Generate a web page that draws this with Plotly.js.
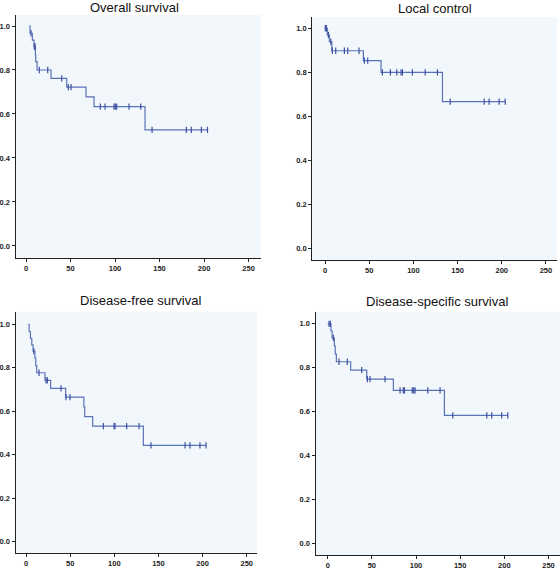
<!DOCTYPE html>
<html><head><meta charset="utf-8">
<script src="https://cdn.plot.ly/plotly-3.0.1.min.js"></script>
<style>html,body{margin:0;padding:0;background:#fff}#chart{width:560px;height:570px}</style>
</head><body><div id="chart"></div>
<script>
// ---- data (time in months, cumulative survival) ----
const panelTitles = ["Overall survival", "Local control", "Disease-free survival", "Disease-specific survival"];
const xTickVals = [0, 50, 100, 150, 200, 250];
const yTickVals = [0, 0.2, 0.4, 0.6, 0.8, 1.0];
const yTickText = ["0.0", "0.2", "0.4", "0.6", "0.8", "1.0"];

// Overall survival
const osTimes = [3.4, 4.5, 7.1, 9.0, 10.5, 10.9, 12.4, 28.1, 45.7, 67.4, 76.4, 133.7, 203.9];
const osSurv  = [1.0, 0.967, 0.936, 0.906, 0.870, 0.838, 0.800, 0.762, 0.722, 0.678, 0.633, 0.528, 0.528];
const osCensT = [5.6, 9.3, 10.2, 14.9, 24.4, 40.1, 47.5, 50.6, 83.5, 88.8, 98.9, 100.3, 101.9, 115.7, 128.9, 141.6, 180.1, 185.7, 197.0, 203.9];
const osCensS = [0.967, 0.906, 0.906, 0.800, 0.800, 0.762, 0.722, 0.722, 0.633, 0.633, 0.633, 0.633, 0.633, 0.633, 0.633, 0.528, 0.528, 0.528, 0.528, 0.528];

// Local control
const lcTimes = [0, 2.6, 4.9, 7.6, 43.4, 63.4, 132.9, 203.9];
const lcSurv  = [1.0, 0.970, 0.939, 0.898, 0.853, 0.800, 0.667, 0.667];
const lcCensT = [0.3, 1.6, 3.8, 6.5, 8.3, 12.1, 21.9, 25.7, 38.5, 44.5, 48.3, 64.9, 74.0, 81.2, 86.1, 87.6, 98.9, 113.3, 127.2, 141.6, 180.1, 185.7, 197.0, 203.9];
const lcCensS = [1.0, 1.0, 0.970, 0.939, 0.898, 0.898, 0.898, 0.898, 0.898, 0.853, 0.853, 0.800, 0.800, 0.800, 0.800, 0.800, 0.800, 0.800, 0.800, 0.667, 0.667, 0.667, 0.667, 0.667];

// Disease-free survival
const dfsTimes = [2.6, 3.5, 5.0, 6.5, 8.0, 10.0, 11.0, 12.1, 21.5, 27.9, 44.9, 65.5, 66.5, 75.5, 132.9, 203.9];
const dfsSurv  = [1.0, 0.967, 0.935, 0.905, 0.877, 0.845, 0.810, 0.777, 0.742, 0.705, 0.665, 0.620, 0.575, 0.531, 0.443, 0.443];
const dfsCensT = [8.8, 14.7, 22.6, 24.2, 39.6, 45.3, 49.8, 87.6, 99.7, 100.8, 114.0, 128.0, 141.6, 180.1, 185.7, 197.0, 203.9];
const dfsCensS = [0.877, 0.777, 0.742, 0.742, 0.705, 0.665, 0.665, 0.531, 0.531, 0.531, 0.531, 0.531, 0.443, 0.443, 0.443, 0.443, 0.443];

// Disease-specific survival
const dssTimes = [0, 3.7, 5.0, 7.5, 8.5, 9.8, 26.0, 44.2, 74.3, 132.1, 203.9];
const dssSurv  = [1.0, 0.967, 0.936, 0.900, 0.862, 0.827, 0.789, 0.748, 0.697, 0.583, 0.583];
const dssCensT = [1.5, 3.0, 6.4, 12.8, 22.2, 38.5, 44.9, 47.9, 64.9, 81.9, 85.6, 86.8, 95.8, 97.4, 98.9, 113.3, 127.2, 141.6, 180.1, 185.7, 197.0, 203.9];
const dssCensS = [1.0, 1.0, 0.936, 0.827, 0.827, 0.789, 0.748, 0.748, 0.748, 0.697, 0.697, 0.697, 0.697, 0.697, 0.697, 0.697, 0.697, 0.583, 0.583, 0.583, 0.583, 0.583];

// ---- layout helpers (pixel boxes of each plot area) ----
const W = 560, H = 570;
const boxes = [
  {l: 15.7, r: 261, t: 15, b: 258, xr: [-11.6, 264], yr: [-0.055, 1.05], tx: 134, ty: 7.5},
  {l: 312.3, r: 557, t: 17, b: 260, xr: [-14.4, 262.5], yr: [-0.051, 1.051], tx: 434.7, ty: 8},
  {l: 15.7, r: 256.7, t: 311.7, b: 552.7, xr: [-11.7, 261.3], yr: [-0.051, 1.058], tx: 140.8, ty: 300},
  {l: 315.7, r: 560, t: 311.7, b: 555, xr: [-13.6, 263], yr: [-0.053, 1.055], tx: 436.7, ty: 301.5}
];
const series = [
  [osTimes, osSurv, osCensT, osCensS],
  [lcTimes, lcSurv, lcCensT, lcCensS],
  [dfsTimes, dfsSurv, dfsCensT, dfsCensS],
  [dssTimes, dssSurv, dssCensT, dssCensS]
];

const lineColor = '#5a73b8';
const markColor = '#3d50a2';
const data = [];
const layout = {
  width: W, height: H,
  margin: {l: 0, r: 0, t: 0, b: 0},
  paper_bgcolor: '#ffffff',
  plot_bgcolor: '#f2f7fb',
  showlegend: false,
  annotations: []
};
const tickFont = {family: 'Liberation Sans, Arial, sans-serif', size: 7.5, color: '#222', weight: 'bold'};

series.forEach((s, i) => {
  const n = i === 0 ? '' : String(i + 1);
  const bx = boxes[i];
  data.push({
    x: s[0], y: s[1], xaxis: 'x' + n, yaxis: 'y' + n,
    type: 'scatter', mode: 'lines', line: {shape: 'hv', color: lineColor, width: 1.2},
    hoverinfo: 'skip'
  });
  data.push({
    x: s[2], y: s[3], xaxis: 'x' + n, yaxis: 'y' + n,
    type: 'scatter', mode: 'markers',
    marker: {symbol: 'line-ns-open', size: 4.5, color: markColor, line: {color: markColor, width: 1.2}},
    hoverinfo: 'skip'
  });
  layout['xaxis' + n] = {
    domain: [bx.l / W, Math.min(1, bx.r / W)], range: bx.xr, anchor: 'y' + n,
    tickvals: xTickVals, ticktext: xTickVals.map(String),
    showgrid: false, zeroline: false, showline: true, linecolor: '#222', linewidth: 1.2,
    ticks: 'outside', ticklen: 3, tickcolor: '#222', tickwidth: 1, tickfont: tickFont
  };
  layout['yaxis' + n] = {
    domain: [1 - bx.b / H, 1 - bx.t / H], range: bx.yr, anchor: 'x' + n,
    tickvals: yTickVals, ticktext: yTickText,
    showgrid: false, zeroline: false, showline: true, linecolor: '#222', linewidth: 1.2,
    ticks: 'outside', ticklen: 3, tickcolor: '#222', tickwidth: 1, tickfont: tickFont
  };
  layout.annotations.push({
    text: panelTitles[i], xref: 'paper', yref: 'paper',
    x: bx.tx / W, y: 1 - bx.ty / H, xanchor: 'center', yanchor: 'middle',
    showarrow: false, font: {family: 'Liberation Sans, Arial, sans-serif', size: 13, color: '#111'}
  });
});

Plotly.newPlot('chart', data, layout, {staticPlot: true, displayModeBar: false});
</script>
</body></html>
